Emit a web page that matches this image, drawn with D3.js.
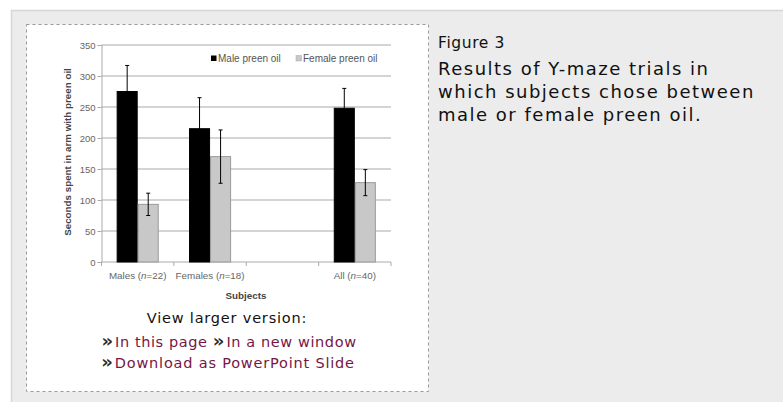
<!DOCTYPE html>
<html>
<head>
<meta charset="utf-8">
<script src="https://cdn.jsdelivr.net/npm/d3@7"></script>
<style>
  html, body { margin: 0; padding: 0; background: #fff; }
  svg { display: block; }
  .tick text { font-family: "Liberation Sans", Arial, sans-serif; font-size: 9.5px; fill: #666; }
</style>
</head>
<body>
<svg id="fig" width="783" height="402"></svg>
<script>
// data
const categories = ["Males", "Females", "", "All"];
const sampleSizes = [22, 18, null, 40];
const series = ["Male preen oil", "Female preen oil"];
const maleOil = [275, 215, null, 248];
const maleOilErr = [42, 50, null, 32];
const femaleOil = [93, 170, null, 128];
const femaleOilErr = [18, 43, null, 21];
const yTicks = [0, 50, 100, 150, 200, 250, 300, 350];
const caption = ["Results of Y-maze trials in", "which subjects chose between", "male or female preen oil."];

const svg = d3.select("#fig");
const chartFont = "Liberation Sans, Arial, sans-serif";

// page panel
svg.append("rect").attr("x", 11.5).attr("y", 10.5).attr("width", 800).attr("height", 420)
  .attr("fill", "#ececec").attr("stroke", "#d6d6d6").attr("stroke-width", 1.5);
svg.append("rect").attr("x", 26.5).attr("y", 24.5).attr("width", 402).attr("height", 367)
  .attr("fill", "#fff").attr("stroke", "#9a9a9a").attr("stroke-dasharray", "3,3");

// scales
const keys = categories.map((c, i) => "c" + i);
const x0 = d3.scaleBand().domain(keys).range([101.5, 391]);
const x1 = d3.scaleBand().domain(series).range([0, x0.bandwidth()]).paddingOuter(0.72);
const y = d3.scaleLinear().domain([0, 350]).range([262, 45]);

// gridlines
svg.append("g").selectAll("line").data(yTicks.filter(d => d > 0)).join("line")
  .attr("x1", 101.5).attr("x2", 391)
  .attr("y1", d => y(d)).attr("y2", d => y(d))
  .attr("stroke", "#c6c6c6").attr("stroke-width", 1.5);

// y axis
const yAxis = svg.append("g").attr("transform", "translate(101.5,0)")
  .call(d3.axisLeft(y).tickValues(yTicks).tickSize(4).tickPadding(2));
yAxis.selectAll("line, path").attr("stroke", "#aaa");

// x axis
const xAxis = svg.append("g").attr("transform", "translate(0,262)");
xAxis.append("line").attr("x1", 101.5).attr("x2", 391).attr("stroke", "#aaa");
xAxis.selectAll("line.tk").data(keys.concat(["end"])).join("line").attr("class", "tk")
  .attr("x1", (d, i) => i < keys.length ? x0(d) : x0.range()[1])
  .attr("x2", (d, i) => i < keys.length ? x0(d) : x0.range()[1])
  .attr("y1", 0).attr("y2", 4).attr("stroke", "#aaa");
const xl = xAxis.selectAll("text").data(categories.map((c, i) => ({c, n: sampleSizes[i], k: keys[i]})).filter(d => d.c))
  .join("text")
  .attr("x", d => x0(d.k) + x0.bandwidth() / 2)
  .attr("y", 17)
  .attr("text-anchor", "middle")
  .attr("font-family", chartFont)
  .attr("font-size", 9.8).attr("fill", "#666");
xl.append("tspan").text(d => d.c + " (");
xl.append("tspan").attr("font-style", "italic").text("n");
xl.append("tspan").text(d => "=" + d.n + ")");

// bars
const rows = categories.map((c, i) => ({
  key: keys[i],
  vals: [
    {s: series[0], v: maleOil[i], e: maleOilErr[i]},
    {s: series[1], v: femaleOil[i], e: femaleOilErr[i]}
  ]
})).filter(r => r.vals[0].v != null);

const colour = d3.scaleOrdinal().domain(series).range(["#000", "#c8c8c8"]);
const edge = d3.scaleOrdinal().domain(series).range(["#000", "#9a9a9a"]);

const grp = svg.append("g").selectAll("g").data(rows).join("g")
  .attr("transform", d => `translate(${x0(d.key)},0)`);

grp.selectAll("rect").data(d => d.vals).join("rect")
  .attr("x", d => x1(d.s) + 0.5)
  .attr("y", d => y(d.v))
  .attr("width", x1.bandwidth() - 1)
  .attr("height", d => y(0) - y(d.v))
  .attr("fill", d => colour(d.s))
  .attr("stroke", d => edge(d.s));

// error bars
const eb = grp.selectAll("g.err").data(d => d.vals).join("g").attr("class", "err")
  .attr("stroke", "#000").attr("stroke-width", 1);
const cx = d => x1(d.s) + x1.bandwidth() / 2;
eb.append("line")
  .attr("x1", cx).attr("x2", cx)
  .attr("y1", d => y(d.v + d.e)).attr("y2", d => y(d.v - d.e));
eb.append("line")
  .attr("x1", d => cx(d) - 2).attr("x2", d => cx(d) + 2)
  .attr("y1", d => y(d.v + d.e)).attr("y2", d => y(d.v + d.e));
eb.append("line")
  .attr("x1", d => cx(d) - 2).attr("x2", d => cx(d) + 2)
  .attr("y1", d => y(d.v - d.e)).attr("y2", d => y(d.v - d.e));

// legend
const lx = [211, 296];
const leg = svg.append("g").selectAll("g").data(series).join("g")
  .attr("transform", (d, i) => `translate(${lx[i]},55.5)`);
leg.append("rect").attr("width", 5.5).attr("height", 5.5)
  .attr("fill", d => colour(d)).attr("stroke", d => d === series[1] ? "#aaa" : "none").attr("stroke-width", 0.5);
leg.append("text").attr("x", 7).attr("y", 6.5)
  .attr("font-family", chartFont).attr("font-size", 10).attr("fill", "#555")
  .text(d => d);

// axis titles
svg.append("text")
  .attr("transform", "translate(71,152) rotate(-90)")
  .attr("text-anchor", "middle")
  .attr("font-family", chartFont).attr("font-size", 9.8)
  .attr("font-weight", "bold").attr("fill", "#444")
  .text("Seconds spent in arm with preen oil");
svg.append("text")
  .attr("x", 246).attr("y", 299)
  .attr("text-anchor", "middle")
  .attr("font-family", chartFont).attr("font-size", 9.8)
  .attr("font-weight", "bold").attr("fill", "#444")
  .text("Subjects");

// links under the figure
const pageFont = "DejaVu Sans, Verdana, sans-serif";
const link = "#761646";
svg.append("text").attr("x", 227).attr("y", 323).attr("text-anchor", "middle")
  .attr("font-family", pageFont).attr("font-size", 14.5).attr("letter-spacing", 0.8).attr("fill", "#111")
  .text("View larger version:");

function arrow(t, dx) {
  t.append("tspan").attr("dx", dx).attr("fill", "#2a2a2a").attr("font-weight", "bold")
    .attr("font-size", 18).attr("letter-spacing", -2).text("\u00bb");
}
const row2 = svg.append("text").attr("x", 229).attr("y", 346.5).attr("text-anchor", "middle")
  .attr("font-family", pageFont).attr("font-size", 14.5).attr("letter-spacing", 0.6);
arrow(row2, 0);
row2.append("tspan").attr("dx", 4).attr("fill", link).text("In this page ");
arrow(row2, 0);
row2.append("tspan").attr("dx", 4).attr("fill", link).text("In a new window");

const row3 = svg.append("text").attr("x", 228).attr("y", 368).attr("text-anchor", "middle")
  .attr("font-family", pageFont).attr("font-size", 14.5).attr("letter-spacing", 0.8);
arrow(row3, 0);
row3.append("tspan").attr("dx", 4).attr("fill", link).text("Download as PowerPoint Slide");

// caption on the right
svg.append("text").attr("x", 438).attr("y", 48)
  .attr("font-family", pageFont).attr("font-size", 15.5).attr("letter-spacing", 0.6).attr("fill", "#111")
  .text("Figure 3");
svg.append("g").selectAll("text").data(caption).join("text")
  .attr("x", 438).attr("y", (d, i) => 75 + i * 23)
  .attr("font-family", pageFont).attr("font-size", 18).attr("letter-spacing", 1.5).attr("fill", "#111")
  .text(d => d);
</script>
</body>
</html>
